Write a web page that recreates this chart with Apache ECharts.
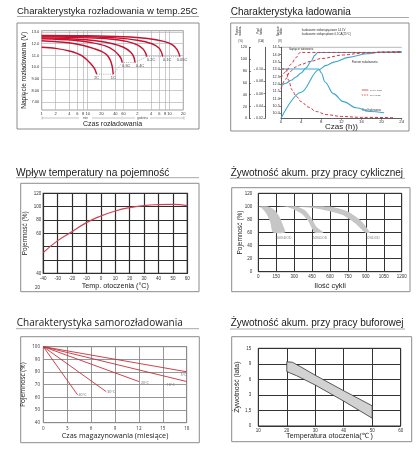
<!DOCTYPE html>
<html><head><meta charset="utf-8">
<script src="https://cdn.jsdelivr.net/npm/echarts@6/dist/echarts.min.js"></script>
<style>html,body{margin:0;padding:0;background:#fff}#c{width:420px;height:450px}</style>
</head><body><div id="c"></div>
<script>
// ================= DATA =================
// 1) Discharge characteristics at 25C (x: minutes, y: volts)
const dischargeTimeTicks = [1,2,4,6,8,10,20,40,60,120,240,360,480,600,1200];
const dischargeTimeLabels = ['1','2','4','6','8','10','20','40','60','2','4','6','8','10','20'];
const dischargeVoltTicks = [7,8,9,10,11,12,13];
const dischargeVoltLabels = ['7.00','8.00','9.00','10.0','11.0','12.0','13.0'];
const dischargeRates = ['2C','1C','0.6C','0.4C','0.2C','0.1C','0.05C'];
const curve2C   = [[1,11.7],[2,11.6],[4,11.38],[6,11.15],[8,10.9],[11,10.4],[14,9.9],[15.7,9.4]];
const curve1C   = [[1,12.25],[3,12.12],[6,11.95],[11,11.7],[20,11.35],[26,11.05],[31,10.6],[34,10.1],[36,9.4]];
const curve06C  = [[1,12.42],[5,12.3],[12,12.1],[25,11.8],[38,11.4],[48,11.0],[53,10.75],[56.5,10.4]];
const curve04C  = [[1,12.5],[5,12.4],[15,12.25],[35,12.0],[60,11.7],[85,11.3],[100,10.9],[107,10.4]];
const curve02C  = [[1,12.58],[10,12.5],[30,12.4],[70,12.2],[120,11.9],[160,11.55],[182,11.2],[192,10.9]];
const curve01C  = [[1,12.65],[10,12.6],[40,12.5],[120,12.3],[250,12.0],[350,11.65],[400,11.3],[427,10.9]];
const curve005C = [[1,12.7],[10,12.68],[60,12.6],[200,12.45],[450,12.2],[700,11.9],[880,11.5],[1016,10.9]];
const cutoffLine = [[15.7,9.4],[36,9.4],[56.5,10.4],[107,10.4],[192,10.9],[427,10.9],[1016,10.9]];

// 2) Charging characteristics (x: hours)
const chargeVoltTicks = [10,10.5,11,11.5,12,12.5,13,13.5,14,14.5];
const chargeCurrentTicks = [0.02,0.04,0.06,0.08,0.10];
const volt100    = [[0,11.85],[1,12.05],[2,12.25],[3,12.48],[4,12.75],[5,13.1],[6,13.55],[6.7,13.95],[7.3,14.15],[24,14.15]];
const level100   = [[0,0],[4,44],[7.5,82],[9,89.5],[10.5,95],[13.5,103],[17,109],[20,112],[24,113]];
const current100 = [[0,0.1],[7.5,0.1],[8,0.094],[8.75,0.079],[10.4,0.06],[12.4,0.047],[15,0.037],[17.7,0.031],[20.5,0.029]];
const volt50     = [[0,12.4],[1,12.85],[2,13.35],[3,13.8],[3.8,14.15],[24,14.15]];
const level50    = [[0,50],[0.9,66],[1.8,79],[3,87],[4,91],[5.8,96],[8,101],[12.4,107],[16,110],[20,112],[24,113]];
const current50  = [[0,0.1],[1,0.1],[1.5,0.082],[2.2,0.066],[3,0.056],[4,0.047],[5.5,0.038],[7,0.031],[9,0.026],[12,0.023],[16,0.0215],[22.5,0.021]];

// 3) Temperature vs capacity
const tempC = [-40,-30,-20,-10,0,10,20,30,40,50,60];
const capacityPct = [31,49,62.5,76,86,93.5,98.5,101.5,103,103.5,101.5];
const tempCapYLabels = {120:'120',100:'100',80:'80',60:'60',0:'40'};

// 4) Cycle life bands (x: cycles, y: %)
const dod100Upper = [[0,100],[90,99.5],[140,94],[180,83],[205,72],[225,60]];
const dod100Lower = [[0,100],[30,97],[70,88],[100,76],[122,60]];
const dod50Upper  = [[126,100],[310,100],[390,94],[445,82],[490,68],[545,60]];
const dod50Lower  = [[126,100],[250,98.5],[360,89],[420,77],[470,60]];
const dod30Upper  = [[251,100],[610,99.5],[750,92],[865,77],[935,60]];
const dod30Lower  = [[251,100],[475,97],[700,87],[810,74],[893,60]];
const dodLabels   = [[209,51,'100%DOD'],[516,51,'50%DOD'],[957,51,'30%DOD']];

// 5) Self-discharge (x: months, y: %)
const sd40 = [[0,100],[4.3,62]];
const sd30 = [[0,100],[7.9,64.5]];
const sd20 = [[0,100],[12,72.5]];
const sd10 = [[0,100],[18,72.5]];
const sd5  = [[0,100],[18,80.2]];

// 6) Float life (x: temperature C, y: years)
const floatYearTicks = [0,1.5,3,6,9,15];
const floatYearLabels = ['0','1,5','3','6','9','15'];
const floatUpper = [[20,9.8],[22,9.6],[25,8.4],[30,6.8],[40,3.8],[50,1.95]];
const floatLower = [[20,7.5],[23.5,6.7],[30,4.9],[40,2.4],[50,0.75]];

// ================= HELPERS =================
const F = 'Liberation Sans', FO = 'Open Sans';
function merge(a,b){const o=Object.assign({},a);for(const k in b){const v=b[k];if(v&&typeof v==='object'&&!Array.isArray(v)&&typeof v!=='function'&&a[k]&&typeof a[k]==='object'&&!Array.isArray(a[k]))o[k]=merge(a[k],v);else o[k]=v;}return o;}
const baseAxis = {type:'value', nameLocation:'middle', nameMoveOverlap:false,
  axisLine:{show:false}, axisTick:{show:false},
  axisLabel:{fontSize:4.5,color:'#333',fontFamily:F,margin:3,formatter:v=>String(v)},
  splitLine:{show:true,lineStyle:{color:'#333',width:1}},
  nameTextStyle:{fontSize:7,color:'#222',fontFamily:F}};
function ax(o){return merge(baseAxis,o);}
function yearsToAxis(y){for(let i=1;i<floatYearTicks.length;i++){if(y<=floatYearTicks[i]){const a=floatYearTicks[i-1],b=floatYearTicks[i];return i-1+(y-a)/(b-a);}}return floatYearTicks.length-1;}
function labeledLast(pts,text,pos,offset,fs,color,font){const arr=pts.map(p=>p.slice());const last=arr.pop();arr.push({value:last,label:{show:true,formatter:text,position:pos,offset:offset,distance:1,fontSize:fs,color:color||'#333',fontFamily:font||F}});return arr;}
function lineS(xi,yi,data,color,w,extra){return merge({type:'line',xAxisIndex:xi,yAxisIndex:yi,data:data,smooth:0.35,symbol:'circle',symbolSize:0.01,showSymbol:true,showAllSymbol:true,silent:true,
  lineStyle:{color:color,width:w},itemStyle:{color:color},label:{show:false},z:3},extra||{});}
function bandS(xi,yi,upper,lower,style,smooth,mapY){return {type:'custom',xAxisIndex:xi,yAxisIndex:yi,data:[[upper[0][0],0]],silent:true,z:2,
  renderItem:function(params,api){const pts=upper.concat(lower.slice().reverse()).map(p=>api.coord([p[0],mapY?mapY(p[1]):p[1]]));return {type:'polygon',shape:{points:pts,smooth:smooth},style:style};}};}

// ================= OPTION =================
const redTL = '#c8102e', blue = '#3ca7cc', redD = '#d4343f';
const grids = [
  {left:41.7, top:30.7, width:141.6, height:79.3, show:true, borderColor:'#888', borderWidth:0.8},
  {left:281, top:47.3, width:120.7, height:71},
  {left:43.3, top:193.3, width:144, height:80, show:true, borderColor:'#333', borderWidth:1.2},
  {left:258.3, top:193.3, width:143.4, height:78.4, show:true, borderColor:'#333', borderWidth:1},
  {left:43.3, top:346.7, width:143.4, height:76, show:true, borderColor:'#888', borderWidth:1},
  {left:258.3, top:348.3, width:142.4, height:77.7, show:true, borderColor:'#333', borderWidth:1}
].map(g=>Object.assign({outerBoundsMode:'none', containLabel:false}, g));

const xAxes = [
  ax({gridIndex:0, type:'log', logBase:10, min:1, max:1200,
      axisTick:{show:false, customValues:dischargeTimeTicks},
      axisLabel:{customValues:dischargeTimeTicks, fontSize:4, margin:2, formatter:v=>dischargeTimeLabels[dischargeTimeTicks.indexOf(Math.round(v))]||''},
      splitLine:{lineStyle:{color:'#b4b4b4',width:0.7}},
      name:'Czas rozładowania', nameGap:10.5, nameTextStyle:{fontSize:7}}),
  ax({gridIndex:1, min:0, max:24, interval:4,
      axisLine:{show:true,lineStyle:{color:'#333',width:0.8}}, axisTick:{show:true,length:1.5,lineStyle:{color:'#333',width:0.6}},
      axisLabel:{fontSize:4.3, margin:1.5}, splitLine:{show:false},
      name:'Czas (h))', nameGap:4.5, nameTextStyle:{fontSize:8}}),
  ax({gridIndex:2, min:-40, max:60, interval:10, axisLabel:{margin:2.7},
      splitLine:{lineStyle:{color:'#2e2e2e',width:1.2}},
      name:'Temp. otoczenia (°C)', nameGap:9, nameTextStyle:{fontSize:7.2}}),
  ax({gridIndex:3, min:0, max:1200, interval:150, axisLabel:{margin:3},
      name:'Ilość cykli', nameGap:10.5, nameTextStyle:{fontSize:7.4}}),
  ax({gridIndex:4, min:0, max:18, interval:3, axisLabel:{margin:3.5,fontFamily:FO},
      splitLine:{lineStyle:{color:'#8a8a8a',width:0.9}},
      name:'Czas magazynowania (miesiące)', nameGap:10, nameTextStyle:{fontSize:7.2,fontFamily:FO}}),
  ax({gridIndex:5, min:10, max:60, interval:10, axisLabel:{margin:2},
      name:'Temperatura otoczenia(℃ )', nameGap:7, nameTextStyle:{fontSize:7.2}})
];
const yAxes = [
  ax({gridIndex:0, min:6.35, max:13.11,
      axisTick:{show:false, customValues:dischargeVoltTicks},
      axisLabel:{customValues:dischargeVoltTicks, fontSize:4, margin:2.4, formatter:v=>dischargeVoltLabels[dischargeVoltTicks.indexOf(Math.round(v))]||''},
      splitLine:{lineStyle:{color:'#b4b4b4',width:0.7}},
      name:'Napięcie rozładowania (V)', nameGap:14, nameTextStyle:{fontSize:6.6}}),
  ax({gridIndex:1, position:'left', offset:0, min:9.66, max:14.5,
      axisLine:{show:true,lineStyle:{color:'#333',width:0.8}},
      axisTick:{show:true,length:1.5,customValues:chargeVoltTicks,lineStyle:{color:'#333',width:0.6}},
      axisLabel:{customValues:chargeVoltTicks, formatter:v=>v.toFixed(1), fontSize:3.8, margin:1.2},
      splitLine:{show:false}}),
  ax({gridIndex:1, position:'left', offset:16, min:0.02, max:0.1352,
      axisLine:{show:true,lineStyle:{color:'#333',width:0.8}},
      axisTick:{show:true,length:1.5,customValues:chargeCurrentTicks,lineStyle:{color:'#333',width:0.6}},
      axisLabel:{customValues:chargeCurrentTicks, formatter:v=>'- '+v.toFixed(2), fontSize:3.6, margin:2},
      splitLine:{show:false}}),
  ax({gridIndex:1, position:'left', offset:32, min:0, max:120, interval:20,
      axisLine:{show:true,lineStyle:{color:'#333',width:0.8}},
      axisTick:{show:true,inside:true,length:2,lineStyle:{color:'#333',width:0.6}},
      axisLabel:{fontSize:3.8, margin:2}, splitLine:{show:false}}),
  ax({gridIndex:2, min:0, max:120, interval:20, axisLabel:{margin:2, formatter:v=>tempCapYLabels[v]||''},
      splitLine:{lineStyle:{color:'#2e2e2e',width:1.2}},
      name:'Pojemność (%)', nameGap:15, nameTextStyle:{fontSize:6.5}}),
  ax({gridIndex:3, min:0, max:120, interval:20, axisLabel:{margin:6},
      name:'Pojemność (%)', nameGap:15, nameTextStyle:{fontSize:6.5}}),
  ax({gridIndex:4, min:40, max:100, interval:10, axisLabel:{margin:3.3,fontFamily:FO},
      splitLine:{lineStyle:{color:'#8a8a8a',width:0.9}},
      name:'Pojemność (%)', nameGap:17, nameTextStyle:{fontSize:6.6,fontFamily:FO}}),
  ax({gridIndex:5, min:0, max:5, interval:1, axisLabel:{margin:7, formatter:v=>floatYearLabels[Math.round(v)]},
      name:'Żywotność (lata)', nameGap:17.5, nameTextStyle:{fontSize:7}})
];

const tlCurves = [curve2C,curve1C,curve06C,curve04C,curve02C,curve01C,curve005C];
const tlLabelOffsets = [[0,0.5],[0,0.5],[4,0],[5,0],[4.5,0],[4.5,0],[2,0]];
const series = [];
series.push(lineS(0,0,cutoffLine,'#9a9a9a',0.8,{smooth:false,lineStyle:{type:[1,1.2]},z:2}));
tlCurves.forEach((c,i)=>series.push(lineS(0,0,labeledLast(c,dischargeRates[i],'bottom',tlLabelOffsets[i],4,'#444'),redTL,1.4)));
// charging
const cs = {smoothMonotone:'x'};
series.push(lineS(1,1,volt100,blue,1.1,cs));
series.push(lineS(1,3,level100,blue,1.1,cs));
series.push(lineS(1,2,current100,blue,1.1,cs));
series.push(lineS(1,1,volt50,redD,1,merge(cs,{lineStyle:{type:[3,2]}})));
series.push(lineS(1,3,level50,redD,1,merge(cs,{lineStyle:{type:[3,2]}})));
series.push(lineS(1,2,current50,redD,1,merge(cs,{lineStyle:{type:[3,2]}})));
// temperature
series.push(lineS(2,4,tempC.map((t,i)=>[t,capacityPct[i]]),'#cf4352',1.2,{smooth:0.5}));
// cycle life
const bandStyle = {fill:'#c6c6c6', stroke:'none'};
series.push(bandS(3,5,dod100Upper,dod100Lower,bandStyle,0.2));
series.push(bandS(3,5,dod50Upper,dod50Lower,bandStyle,0.2));
series.push(bandS(3,5,dod30Upper,dod30Lower,bandStyle,0.2));
series.push({type:'scatter',xAxisIndex:3,yAxisIndex:5,data:dodLabels,symbolSize:0,silent:true,z:4,
  label:{show:true,position:'inside',formatter:p=>p.value[2],fontSize:3.4,color:'#555',fontFamily:F}});
// self discharge
const sdColor = '#c4303a';
series.push(lineS(4,6,labeledLast(sd40,'40°C','right',[0,0],3.6,'#666',FO),sdColor,0.9,{smooth:false}));
series.push(lineS(4,6,labeledLast(sd30,'30°C','right',[0,0],3.6,'#666',FO),sdColor,0.9,{smooth:false}));
series.push(lineS(4,6,labeledLast(sd20,'20°C','right',[1,1],3.6,'#666',FO),sdColor,0.9,{smooth:false}));
series.push(lineS(4,6,labeledLast(sd10,'10°C','bottom',[-16,0],3.6,'#666',FO),sdColor,0.9,{smooth:false}));
series.push(lineS(4,6,labeledLast(sd5,'5°C','bottom',[-3,0.5],3.6,'#666',FO),sdColor,0.9,{smooth:false}));
// float life
series.push(bandS(5,7,floatUpper,floatLower,{fill:'#d2d2d2',stroke:'#333',lineWidth:0.8},0,yearsToAxis));

// ---- decoration ----
const panels = [[17,23,182,106],[230.7,23,178.3,108],[20.7,183.3,178.3,108.4],[231.7,187.7,178.3,104],[20.7,336.7,178.6,106],[231.7,336.7,180,105]];
const underlines = [[17,199,16.5],[230,409,17.5],[16,199,177.7],[230,405,178.3],[16,199,328.7],[230,405,329]];
const G = [];
panels.forEach(p=>G.push({type:'rect',silent:true,shape:{x:p[0],y:p[1],width:p[2],height:p[3]},style:{fill:'none',stroke:'#8c8c8c',lineWidth:1}}));
underlines.forEach(u=>G.push({type:'line',silent:true,shape:{x1:u[0],y1:u[2],x2:u[1],y2:u[2]},style:{stroke:'#a8a8a8',lineWidth:1}}));
function T(x,y,text,fs,o){return merge({type:'text',silent:true,x:x,y:y,style:{text:text,fontSize:fs,fontFamily:F,fill:'#333',align:'left',verticalAlign:'middle'}},o||{});}
function L(x1,y1,x2,y2,o){return merge({type:'line',silent:true,shape:{x1:x1,y1:y1,x2:x2,y2:y2},style:{stroke:'#888',lineWidth:0.5}},o||{});}
// TL min / godzina annotation
G.push(L(42,118,79,118),L(92,118,121,118),L(123,118,135,118),L(150,118,184,118),L(42,116.5,42,119.5),L(122,116.5,122,119.5),L(184,116.5,184,119.5));
G.push(T(85.5,118,'min',3.2,{style:{align:'center',fill:'#555'}}),T(142.5,118,'godzina',3.2,{style:{align:'center',fill:'#555'}}));
// TR header texts
G.push(T(238.5,31,'Poziom\nnaładow.',2.6,{rotation:Math.PI/2,style:{align:'center',lineHeight:3}}),T(240.5,41.3,'(%)',3,{style:{align:'center'}}));
G.push(T(260,31,'Prąd\nładow.',2.6,{rotation:Math.PI/2,style:{align:'center',lineHeight:3}}),T(260.8,41.3,'(CA)',3,{style:{align:'center'}}));
G.push(T(279.5,31,'Napięcie\nładow.',2.6,{rotation:Math.PI/2,style:{align:'center',lineHeight:3}}),T(280,41.3,'(V)',3,{style:{align:'center'}}));
G.push(T(301.7,30,'Ładowanie stałonapięciowe 14.1V',2.9),T(301.7,34.3,'Ładowanie stałoprądowe 0.1CA(25°C)',2.9));
G.push(T(289,49.5,'Napięcie ładowania',2.8),T(351.7,62,'Poziom naładowania',2.8),T(361.7,110,'Prąd ładowania',2.8));
G.push(L(361.7,90,368.3,90,{style:{stroke:redD,lineWidth:0.8}}),L(361.7,95,368.3,95,{style:{stroke:redD,lineWidth:0.8,lineDash:[1.5,1]}}));
G.push(T(370,90,'100% DOD',2.4,{style:{fill:'#555'}}),T(370,95,'50% DOD',2.4,{style:{fill:'#555'}}));
G.push(L(281,47.3,401.7,47.3,{style:{stroke:'#999',lineWidth:0.7}}));
// ML stray label
G.push(T(37.5,288,'20',4.5,{style:{align:'center'}}));

const titleStyle = {fontWeight:'normal',color:'#1a1a1a',fontFamily:F,fontSize:10};
const option = {
  animation:false,
  backgroundColor:'#fff',
  title:[
    {text:'Charakterystyka rozładowania w temp.25C',left:17,top:6.5,padding:0,textStyle:merge(titleStyle,{fontSize:9.5})},
    {text:'Charakterystyka ładowania',left:230.7,top:7.5,padding:0,textStyle:titleStyle},
    {text:'Wpływ temperatury na pojemność',left:16,top:168,padding:0,textStyle:merge(titleStyle,{fontSize:10.2})},
    {text:'Żywotność akum. przy pracy cyklicznej',left:230.7,top:168.5,padding:0,textStyle:titleStyle},
    {text:'Charakterystyka samorozładowania',left:16.7,top:318,padding:0,textStyle:merge(titleStyle,{fontFamily:FO})},
    {text:'Żywotność akum. przy pracy buforowej',left:230.7,top:318.5,padding:0,textStyle:titleStyle}
  ],
  grid:grids, xAxis:xAxes, yAxis:yAxes, series:series,
  graphic:{elements:G}
};
const chart = echarts.init(document.getElementById('c'), null, {renderer:'canvas'});
chart.setOption(option);
</script></body></html>
